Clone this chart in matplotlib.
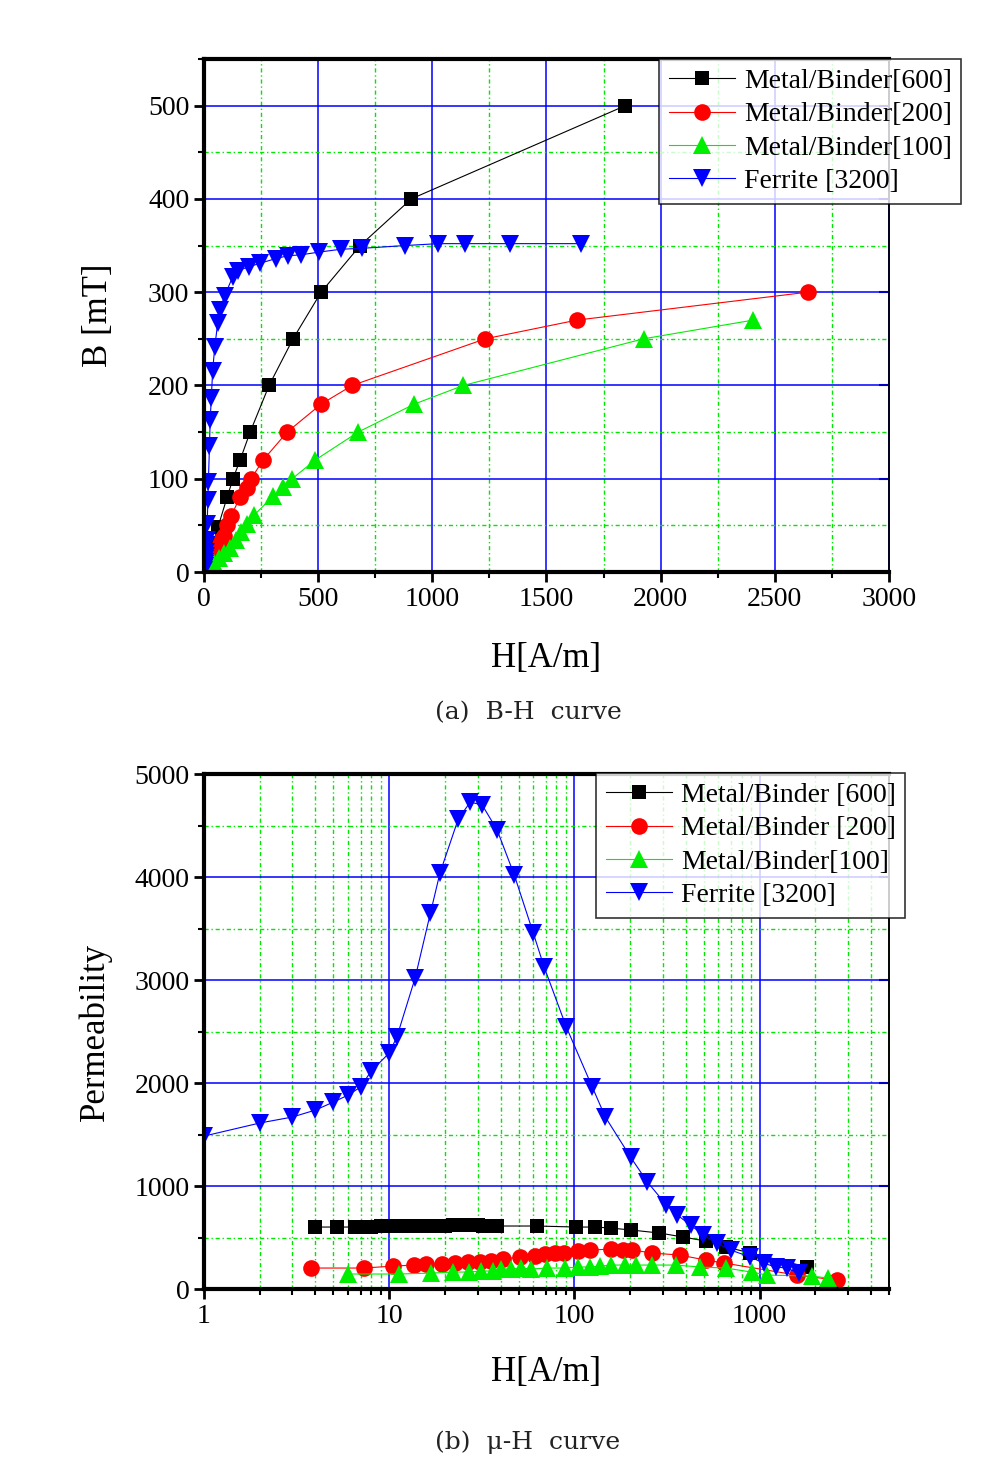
import matplotlib
matplotlib.use("Agg")
import matplotlib.pyplot as plt
from matplotlib.ticker import MultipleLocator, LogLocator, NullFormatter

plt.rcParams['font.family'] = ['Liberation Serif', 'DejaVu Serif']

# ---- (a) B-H curve data ----
bh_h_600 = [4, 7, 12, 20, 30, 40, 61, 101, 127, 158, 202, 285, 390, 513, 684, 908, 1846]
bh_b_600 = [3, 5, 9, 15, 23, 31, 48, 80, 100, 120, 150, 200, 250, 300, 350, 400, 500]

bh_h_200 = [4, 7, 11, 14, 16, 19, 23, 27, 31, 36, 41, 51, 62, 70, 79, 88, 101, 118,
            158, 189, 206, 259, 364, 513, 649, 1232, 1632, 2645]
bh_b_200 = [1, 2, 3, 4, 5, 6, 7, 9, 10, 12, 15, 20, 25, 30, 35, 39, 50, 60,
            80, 90, 100, 120, 150, 180, 200, 250, 270, 300]

bh_h_100 = [6, 11, 17, 22, 27, 31, 37, 44, 66, 88, 114, 140, 162, 189, 219, 303,
            346, 386, 487, 675, 921, 1136, 1925, 2404]
bh_b_100 = [1, 2, 3, 5, 6, 7, 8, 10, 15, 20, 26, 34, 43, 51, 61, 81,
            91, 100, 120, 150, 180, 200, 250, 270]

bh_h_3200 = [1, 2, 3, 4, 5, 6, 7, 8, 10, 11, 14, 17, 19, 24, 27, 32, 38, 47, 60, 69,
             90, 125, 147, 195, 245, 315, 366, 424, 505, 600, 693, 882, 1026, 1145, 1338, 1653]
bh_b_3200 = [2, 4, 6, 9, 11, 14, 17, 21, 29, 34, 52, 77, 96, 135, 163, 187, 216, 241, 267, 281,
             296, 316, 323, 327, 331, 336, 339, 340, 343, 346, 347, 350, 352, 352, 352, 352]

# ---- (b) mu-H curve data ----
mu_h_600 = [4, 5.2, 6.5, 7, 8, 9, 10, 11, 12, 13, 14, 15, 16, 18, 20, 22, 24, 26, 28, 30,
            32, 38, 63, 102, 130, 158, 203, 288, 387, 512, 661, 893, 1812]
mu_600 = [602, 602, 602, 605, 607, 608, 610, 610, 612, 612, 613, 614, 615, 616, 617, 618, 619, 620, 620, 621,
          612, 612, 612, 602, 602, 592, 573, 544, 505, 466, 408, 350, 214]

mu_h_200 = [3.8, 7.3, 10.5, 13.6, 15.8, 19.3, 22.7, 26.7, 31, 35.6, 41.3, 51, 61.5, 69.7,
            78.9, 88.3, 104, 122, 158, 184, 206, 261, 370, 511, 646, 1585, 2608]
mu_200 = [204, 204, 223, 233, 243, 243, 252, 262, 262, 272, 291, 311, 320, 340,
          350, 350, 369, 379, 388, 379, 379, 350, 330, 282, 252, 136, 87]

mu_h_100 = [6, 11.3, 16.9, 22.2, 27.1, 31.4, 36.5, 40.3, 45.5, 51.5, 58.6, 70.9, 89.5, 105,
            122, 138, 158, 188, 216, 261, 352, 478, 657, 905, 1092, 1909, 2347]
mu_100 = [146, 146, 155, 165, 165, 175, 175, 194, 194, 204, 194, 204, 204, 214,
          214, 223, 233, 233, 233, 233, 233, 214, 204, 165, 136, 126, 107]

mu_h_3200 = [1, 2, 3, 4, 5, 6, 7, 8, 10, 11, 13.8, 16.7, 18.8, 23.6, 27.4, 31.8, 38.3, 47.4,
             60, 68.7, 90.5, 125, 147, 201, 248, 314, 360, 424, 498, 586, 697, 893, 1051, 1220, 1399, 1625]
mu_3200 = [1485, 1612, 1670, 1738, 1816, 1883, 1961, 2117, 2291, 2447, 3019, 3650, 4039, 4563, 4728, 4699, 4456, 4019,
           3456, 3126, 2544, 1961, 1670, 1282, 1039, 816, 718, 621, 524, 447, 379, 311, 252, 214, 204, 155]

labels_a = ['Metal/Binder[600]', 'Metal/Binder[200]', 'Metal/Binder[100]', 'Ferrite [3200]']
labels_b = ['Metal/Binder [600]', 'Metal/Binder [200]', 'Metal/Binder[100]', 'Ferrite [3200]']

styles = [
    dict(color='black', marker='s', markersize=10.5),
    dict(color='red', marker='o', markersize=12),
    dict(color='#00ee00', marker='^', markersize=13),
    dict(color='blue', marker='v', markersize=13),
]

grid_green = '#00e800'
tick_fs = 20


def style_axes(ax):
    ax.set_axisbelow(True)
    ax.grid(which='major', color='blue', linestyle='-', linewidth=1.1)
    ax.grid(which='minor', color=grid_green, linestyle=(0, (3, 2, 1, 2)), linewidth=1.0)
    for side in ['left', 'bottom', 'top']:
        ax.spines[side].set_linewidth(3)
        ax.spines[side].set_zorder(5)
    ax.spines['right'].set_linewidth(1.2)
    ax.spines['right'].set_zorder(5)
    ax.tick_params(which='major', direction='out', length=7, width=2, labelsize=tick_fs)
    ax.tick_params(which='minor', direction='out', length=4, width=1.5)
    sec = ax.secondary_yaxis('right')
    sec.tick_params(direction='in', length=7, width=1.5, labelright=False)
    sec.set_yticks(ax.get_yticks())
    sec.spines['right'].set_linewidth(1.2)
    sec.spines['right'].set_color('black')


def add_legend(ax, handles, x_px, y_px):
    leg = ax.legend(handles=handles, loc='upper left', bbox_to_anchor=(x_px / 1002, 1 - y_px / 1466),
                    bbox_transform=fig.transFigure, fontsize=20, frameon=True, fancybox=False,
                    edgecolor='black', borderpad=0.35, labelspacing=0.28, handlelength=2.4,
                    handletextpad=0.3, borderaxespad=0)
    leg.get_frame().set_linewidth(1.2)
    return leg


fig = plt.figure(figsize=(10.02, 14.66), dpi=100)

# (a) B-H
ax1 = fig.add_axes([0.2036, 0.6098, 0.6836, 0.3500])
series_a = [(bh_h_600, bh_b_600), (bh_h_200, bh_b_200), (bh_h_100, bh_b_100), (bh_h_3200, bh_b_3200)]
handles = []
for (x, y), st, lab in zip(series_a, styles, labels_a):
    h, = ax1.plot(x, y, linestyle='-', linewidth=0.8, label=lab, markeredgewidth=0, **st)
    handles.append(h)
ax1.set_xlim(0, 3000)
ax1.set_ylim(0, 550)
ax1.xaxis.set_major_locator(MultipleLocator(500))
ax1.xaxis.set_minor_locator(MultipleLocator(250))
ax1.yaxis.set_minor_locator(MultipleLocator(50))
ax1.set_yticks([0, 100, 200, 300, 400, 500])
style_axes(ax1)
ax1.set_xlabel('H[A/m]', fontsize=25, labelpad=22)
ax1.set_ylabel('B [mT]', fontsize=25, labelpad=24)
add_legend(ax1, handles, 659, 59)

fig.text(0.527, 1 - 713 / 1466, '(a)  B-H  curve', family='DejaVu Serif', fontsize=18,
         color='#222222', ha='center', va='center')

# (b) mu-H
ax2 = fig.add_axes([0.2036, 0.1207, 0.6836, 0.3513])
series_b = [(mu_h_600, mu_600), (mu_h_200, mu_200), (mu_h_100, mu_100), (mu_h_3200, mu_3200)]
handles = []
for (x, y), st, lab in zip(series_b, styles, labels_b):
    h, = ax2.plot(x, y, linestyle='-', linewidth=0.8, label=lab, markeredgewidth=0, **st)
    handles.append(h)
ax2.set_xscale('log')
ax2.set_xlim(1, 5000)
ax2.set_ylim(0, 5000)
ax2.xaxis.set_minor_locator(LogLocator(base=10, subs=range(2, 10), numticks=20))
ax2.xaxis.set_minor_formatter(NullFormatter())
ax2.set_xticks([1, 10, 100, 1000])
ax2.set_xticklabels(['1', '10', '100', '1000'])
ax2.yaxis.set_minor_locator(MultipleLocator(500))
ax2.set_yticks([0, 1000, 2000, 3000, 4000, 5000])
style_axes(ax2)
ax2.set_xlabel('H[A/m]', fontsize=25, labelpad=20)
ax2.set_ylabel('Permeability', fontsize=25, labelpad=16)
add_legend(ax2, handles, 596, 773)

fig.text(0.527, 1 - 1442 / 1466, '(b)  \u03bc-H  curve', family='DejaVu Serif', fontsize=18,
         color='#222222', ha='center', va='center')

fig.savefig('out.png', dpi=100)
